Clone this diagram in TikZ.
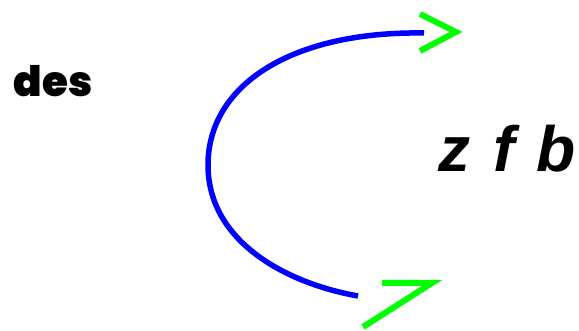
\documentclass[tikz,border=0pt]{standalone}
\usepackage{fontspec}
\usepackage{xcolor}
\newfontfamily\desfont{Poppins Black}
\newfontfamily\zfbfont{Liberation Sans}
\begin{document}
\begin{tikzpicture}[x=1pt, y=1pt, line width=5.5pt,
        curve/.style = {draw=blue, line cap=butt},
        tip/.style = {draw=green, line width=6pt, line cap=butt, line join=miter}]
        \useasboundingbox (0,0) rectangle (579,331);
        \node[anchor=base west, inner sep=0pt, font=\desfont\fontsize{42}{42}\selectfont] (des) at (11,234) {des};
        \node[anchor=base west, inner sep=0pt, font=\zfbfont\bfseries\itshape\fontsize{64}{64}\selectfont] (zfb) at (436,159) {z\hspace{0.35em}f\hspace{0.35em}b};

        \coordinate (start) at (424,298);
        \coordinate (left) at (208,166);
        \coordinate (end) at (358,35);

        \draw[curve] (start) .. controls (290,300) and (208,245) .. (left)
                     .. controls (208,90) and (285,48) .. (end);

        % green tips
        \coordinate (t1) at (456,299);
        \draw[tip] (420,317) -- (t1) -- (420,280);
        \coordinate (t2) at (432,48);
        \draw[tip] (382,48) -- (t2) -- (363,4);
\end{tikzpicture}
\end{document}
